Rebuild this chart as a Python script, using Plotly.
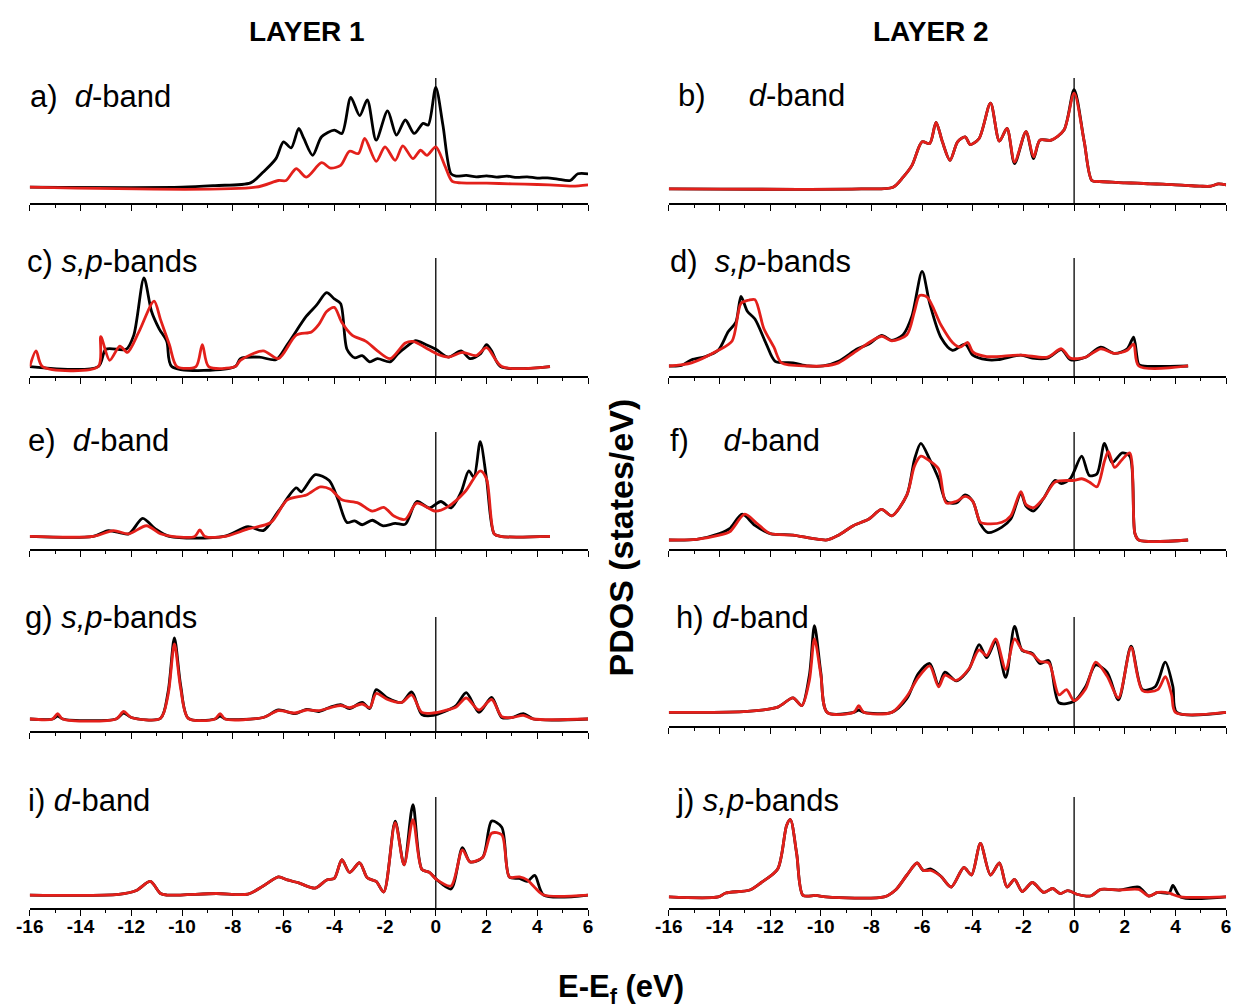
import plotly.graph_objects as go

# ---------------- data (energy E-Ef in eV, PDOS in arbitrary units) ----------------
A_BLACK_E = [-16, -10, -8.7, -7.3, -6.8, -6.3, -6.0, -5.7, -5.4, -5.2, -4.85, -4.5, -4.0, -3.7, -3.35, -3.0, -2.7, -2.35, -1.9, -1.55, -1.2, -0.85, -0.5, -0.3, 0, 0.28, 0.6, 0.8, 1.2, 1.6, 2.0, 2.4, 2.8, 3.2, 3.6, 4.0, 4.4, 4.8, 5.3, 5.6, 6]
A_BLACK = [0, 0, 5, 13, 45, 85, 135, 117, 175, 145, 95, 150, 170, 160, 267, 213, 260, 140, 227, 155, 200, 160, 190, 185, 297, 185, 40, 33, 35, 31, 34, 30, 33, 29, 31, 27, 28, 24, 20, 40, 40]
A_RED_E = [-16, -7.1, -6.2, -5.9, -5.5, -5.1, -4.5, -4.15, -3.75, -3.4, -3.05, -2.8, -2.35, -2.0, -1.6, -1.3, -0.9, -0.6, -0.35, 0, 0.35, 0.65, 1.0, 2, 3, 4, 5, 5.4, 6]
A_RED = [0, 0, 20, 20, 55, 30, 73, 57, 65, 107, 100, 145, 77, 120, 80, 123, 85, 110, 95, 120, 65, 17, 13, 12, 10, 8, 5, 3, 7]

C_BLACK_E = [-16, -13.3, -13.0, -12.2, -11.9, -11.5, -11.2, -10.9, -10.6, -10.4, -7.9, -7.7, -6.95, -6.3, -5.85, -5.1, -4.7, -4.3, -4.0, -3.75, -3.5, -3.2, -2.9, -2.6, -2.3, -1.8, -1.5, -1.2, -0.8, -0.4, 0, 0.5, 1.0, 1.35, 1.75, 2.0, 2.2, 2.55, 4.5]
C_BLACK = [0, 0, 55, 55, 100, 282, 175, 120, 80, 0, 0, 25, 30, 22, 70, 160, 195, 235, 215, 200, 55, 28, 35, 15, 25, 15, 40, 60, 82, 70, 55, 30, 50, 25, 40, 70, 50, 0, 0]
C_RED_E = [-16, -15.75, -15.5, -13.3, -13.2, -12.85, -12.45, -12.15, -11.7, -11.1, -10.85, -10.5, -10.2, -9.45, -9.2, -8.95, -7.9, -7.7, -6.8, -6.2, -5.5, -4.9, -4.6, -4.3, -4.0, -3.7, -3.3, -2.75, -2.3, -1.8, -1.2, -0.9, -0.4, 0.05, 0.5, 1.05, 1.6, 2.0, 2.6, 4.5]
C_RED = [0, 50, 0, 0, 95, 20, 65, 45, 110, 208, 150, 70, 0, 0, 70, 0, 0, 20, 50, 25, 100, 110, 135, 175, 188, 140, 100, 80, 50, 25, 75, 80, 60, 40, 30, 45, 35, 60, 0, 0]

E_BLACK_E = [-16, -13.5, -12.9, -12.1, -11.55, -11.05, -10.5, -8.35, -7.4, -6.8, -6.2, -5.5, -5.3, -4.75, -4.2, -3.85, -3.5, -3.2, -2.9, -2.5, -2.1, -1.6, -1.2, -0.75, -0.25, 0.2, 0.6, 1.0, 1.3, 1.5, 1.75, 2.0, 2.3, 2.55, 4.5]
E_BLACK = [0, 0, 18, 8, 56, 23, 0, 0, 30, 18, 78, 150, 138, 191, 173, 113, 43, 48, 36, 50, 33, 40, 38, 108, 88, 108, 88, 138, 203, 183, 293, 178, 8, 0, 0]
E_RED_E = [-16, -13.5, -12.7, -12.1, -11.4, -10.85, -10.4, -9.5, -9.3, -9.1, -8.3, -7.4, -6.5, -5.85, -5.1, -4.55, -4.15, -3.7, -3.05, -2.5, -2.05, -1.65, -1.2, -0.75, 0, 0.5, 1.15, 1.75, 2.0, 2.3, 2.55, 4.5]
E_RED = [0, 0, 18, 8, 33, 8, 0, 0, 20, 0, 0, 23, 43, 113, 128, 153, 146, 113, 103, 78, 90, 63, 53, 103, 78, 93, 138, 203, 178, 8, 0, 0]

G_E = [-16, -15.1, -14.9, -14.7, -12.6, -12.3, -12.0, -10.85, -10.55, -10.3, -10.05, -9.75, -8.7, -8.5, -8.3, -6.8, -6.2, -5.55, -5.1, -4.6, -4.15, -3.75, -3.4, -2.9, -2.6, -2.35, -1.9, -1.35, -0.95, -0.55, -0.1, 0.35, 0.8, 1.2, 1.7, 2.2, 2.6, 3.0, 3.45, 3.85, 6]
G_BLACK = [0, 0, 10, 0, 0, 20, 5, 2, 90, 270, 110, 2, 0, 10, 0, 5, 30, 18, 32, 25, 40, 48, 35, 55, 35, 98, 70, 55, 90, 15, 12, 25, 45, 88, 22, 72, 5, 5, 18, 0, 0]
G_RED = [0, 0, 18, 0, 0, 25, 5, 2, 80, 250, 100, 2, 0, 18, 0, 5, 28, 20, 30, 28, 38, 45, 38, 50, 38, 85, 65, 55, 80, 22, 20, 28, 40, 70, 30, 65, 8, 5, 12, 0, 0]

I_E = [-16, -12.5, -11.8, -11.25, -10.85, -10.6, -8.65, -7.4, -6.8, -6.2, -5.85, -5.4, -4.75, -4.3, -4.0, -3.7, -3.4, -3.0, -2.7, -2.35, -2.05, -1.6, -1.25, -0.9, -0.55, -0.25, 0.05, 0.6, 1.05, 1.35, 1.85, 2.2, 2.6, 2.9, 3.3, 3.6, 3.9, 4.25, 6]
I_BLACK = [0, 2, 15, 45, 5, 0, 5, 3, 30, 60, 50, 40, 23, 50, 55, 117, 75, 107, 57, 45, 10, 245, 100, 300, 85, 75, 50, 20, 157, 110, 125, 245, 225, 60, 55, 45, 65, 0, 0]
I_RED = [0, 2, 15, 45, 5, 0, 5, 3, 30, 60, 50, 40, 23, 50, 55, 117, 75, 107, 57, 45, 10, 240, 100, 250, 85, 75, 50, 30, 150, 110, 125, 205, 200, 60, 60, 50, 25, 0, 0]

B_E = [-16, -8.4, -7.15, -6.75, -6.4, -6.0, -5.7, -5.45, -5.2, -4.9, -4.6, -4.3, -4.1, -3.75, -3.3, -2.95, -2.65, -2.35, -1.9, -1.6, -1.35, -0.9, -0.4, 0, 0.4, 0.7, 1.0, 1.5, 2.0, 2.5, 3.0, 3.5, 4.0, 4.5, 5.0, 5.4, 5.7, 6]
B_BLACK = [0, 0, 5, 35, 70, 140, 135, 198, 140, 85, 140, 155, 132, 150, 255, 142, 180, 75, 170, 90, 145, 145, 175, 295, 140, 25, 22, 20, 18, 17, 15, 14, 12, 10, 8, 8, 15, 12]
B_RED = [0, 0, 5, 35, 70, 140, 135, 198, 140, 85, 140, 155, 132, 150, 255, 142, 180, 80, 170, 95, 145, 145, 175, 285, 140, 25, 22, 20, 18, 17, 15, 14, 12, 10, 8, 8, 15, 12]

D_BLACK_E = [-16, -15.5, -15.1, -14.55, -14.05, -13.65, -13.35, -13.15, -12.9, -12.6, -12.15, -11.8, -11.1, -10.5, -9.9, -9.3, -8.55, -8.1, -7.6, -7.2, -6.75, -6.4, -6.0, -5.7, -5.25, -4.8, -4.3, -4.0, -3.45, -3.0, -2.1, -1.65, -1.05, -0.5, -0.15, 0.45, 1.05, 1.6, 2.1, 2.35, 2.55, 2.7, 4.5]
D_BLACK = [0, 2, 20, 30, 50, 110, 140, 222, 175, 150, 70, 15, 10, 0, 0, 15, 55, 70, 98, 82, 100, 160, 302, 200, 90, 50, 70, 35, 20, 20, 35, 25, 25, 52, 20, 28, 60, 40, 55, 92, 5, 0, 0]
D_RED_E = [-16, -15.1, -14.05, -13.5, -13.15, -12.85, -12.6, -12.25, -11.85, -11.55, -10.5, -9.9, -9.3, -8.55, -7.6, -7.2, -6.6, -6.3, -6.1, -5.8, -5.25, -4.8, -4.5, -4.2, -4.0, -3.45, -2.1, -1.05, -0.5, -0.15, 0.45, 1.05, 1.6, 2.1, 2.35, 2.55, 4.5]
D_RED = [0, 10, 50, 80, 200, 210, 212, 120, 60, 10, 0, 0, 10, 50, 95, 80, 100, 175, 225, 220, 130, 75, 60, 75, 45, 30, 35, 28, 55, 25, 28, 55, 40, 50, 70, 0, 0]

F_BLACK_E = [-16, -14.9, -14.0, -13.6, -13.1, -12.6, -12.0, -11.1, -10.35, -9.75, -9.3, -8.7, -8.1, -7.6, -7.2, -6.6, -6.3, -6.05, -5.7, -5.35, -5.05, -4.65, -4.3, -4.0, -3.7, -3.4, -2.85, -2.5, -2.1, -1.9, -1.6, -1.2, -0.75, -0.5, -0.15, 0.3, 0.6, 0.9, 1.2, 1.5, 1.9, 2.2, 2.4, 2.55, 4.5]
F_BLACK = [0, 2, 20, 35, 80, 45, 20, 15, 5, 0, 15, 45, 65, 95, 75, 140, 250, 300, 250, 190, 120, 115, 140, 120, 50, 23, 40, 65, 145, 105, 90, 130, 185, 175, 190, 260, 200, 205, 300, 240, 270, 260, 20, 0, 0]
F_RED_E = [-16, -14.9, -14.0, -13.6, -13.0, -12.5, -12.0, -11.1, -10.35, -9.75, -9.3, -8.7, -8.1, -7.6, -7.2, -6.6, -6.3, -6.05, -5.7, -5.35, -5.05, -4.65, -4.3, -4.0, -3.7, -3.4, -2.85, -2.5, -2.1, -1.9, -1.6, -1.2, -0.75, 0, 0.3, 0.6, 0.9, 1.2, 1.35, 1.6, 1.9, 2.2, 2.4, 2.55, 4.5]
F_RED = [0, 2, 15, 25, 80, 50, 20, 15, 5, 0, 15, 45, 65, 95, 75, 140, 230, 260, 245, 220, 115, 120, 135, 120, 55, 50, 55, 75, 150, 110, 100, 130, 180, 185, 190, 180, 165, 245, 275, 225, 250, 270, 20, 0, 0]

H_BLACK_E = [-16, -12.9, -11.7, -11.1, -10.75, -10.45, -10.25, -10.0, -9.75, -8.7, -8.5, -8.3, -7.2, -6.6, -6.15, -5.7, -5.35, -5.1, -4.65, -4.15, -3.75, -3.45, -3.1, -2.7, -2.35, -2.05, -1.65, -1.35, -1.0, -0.6, 0, 0.45, 0.85, 1.3, 1.75, 2.25, 2.7, 3.2, 3.6, 3.9, 4.05, 6]
H_BLACK = [0, 3, 18, 50, 23, 128, 298, 138, 0, 0, 8, 0, 0, 48, 133, 168, 93, 138, 108, 148, 233, 188, 243, 120, 296, 213, 203, 168, 178, 33, 38, 88, 163, 138, 43, 228, 78, 88, 173, 88, 0, 0]
H_RED_E = [-16, -12.9, -11.7, -11.1, -10.75, -10.45, -10.25, -10.0, -9.75, -8.7, -8.5, -8.3, -7.2, -6.6, -6.15, -5.7, -5.35, -5.1, -4.65, -4.15, -3.75, -3.45, -3.1, -2.7, -2.35, -2.05, -1.65, -1.35, -1.0, -0.6, -0.3, 0, 0.45, 0.85, 1.3, 1.75, 2.25, 2.7, 3.3, 3.6, 3.85, 4.0, 6]
H_RED = [0, 3, 18, 50, 23, 110, 253, 130, 0, 0, 23, 0, 0, 55, 120, 160, 88, 128, 110, 150, 215, 195, 253, 148, 253, 215, 200, 175, 170, 60, 78, 40, 80, 173, 125, 50, 223, 75, 78, 123, 60, 0, 0]

J_E = [-16, -14.05, -13.75, -12.8, -12.35, -11.7, -11.35, -11.2, -10.95, -10.7, -10.2, -9.8, -7.5, -7.05, -6.6, -6.2, -5.95, -5.65, -5.25, -4.85, -4.35, -4.05, -3.7, -3.3, -2.95, -2.65, -2.35, -2.05, -1.65, -1.2, -0.85, -0.55, -0.25, 0.15, 0.65, 1.05, 1.8, 2.55, 2.95, 3.3, 3.75, 3.9, 4.2, 6]
J_BLACK = [0, 0, 13, 23, 48, 93, 238, 258, 143, 5, 5, 0, 0, 23, 73, 113, 88, 93, 68, 33, 98, 73, 178, 73, 113, 33, 58, 18, 48, 15, 28, 11, 21, 8, 3, 25, 23, 33, 3, 15, 13, 38, 0, 0]
J_RED = [0, 0, 13, 23, 48, 93, 238, 258, 143, 5, 5, 0, 0, 23, 73, 113, 88, 88, 68, 33, 98, 73, 178, 73, 113, 33, 58, 18, 48, 15, 28, 11, 21, 8, 3, 25, 23, 25, 3, 15, 13, 8, 0, 0]

PANEL_LABELS = ["a)  <i>d</i>-band", "b)     <i>d</i>-band", "c) <i>s,p</i>-bands", "d)  <i>s,p</i>-bands",
                "e)  <i>d</i>-band", "f)    <i>d</i>-band", "g) <i>s,p</i>-bands", "h) <i>d</i>-band",
                "i) <i>d</i>-band", "j) <i>s,p</i>-bands"]
COLUMN_TITLES = ["LAYER 1", "LAYER 2"]
TICK_VALUES = [-16, -14, -12, -10, -8, -6, -4, -2, 0, 2, 4, 6]

# ---------------- layout geometry ----------------
W, H = 1238, 1008
FONT = "Liberation Sans, Arial, sans-serif"
BLACK = "#000000"
RED = "#e3201b"

panels = [
    # (label, col, (top_px, bottom_px), yrange, black_x, black_y, red_x, red_y)
    ("a", 0, (78, 203), (-47, 325), A_BLACK_E, A_BLACK, A_RED_E, A_RED),
    ("b", 1, (78, 203), (-42, 330), B_E, B_BLACK, B_E, B_RED),
    ("c", 0, (258, 376), (-30, 345), C_BLACK_E, C_BLACK, C_RED_E, C_RED),
    ("d", 1, (258, 376), (-32, 345), D_BLACK_E, D_BLACK, D_RED_E, D_RED),
    ("e", 0, (432, 549), (-39, 323), E_BLACK_E, E_BLACK, E_RED_E, E_RED),
    ("f", 1, (432, 549), (-28, 335), F_BLACK_E, F_BLACK, F_RED_E, F_RED),
    ("g", 0, (617, 731), (-40, 340), G_E, G_BLACK, G_E, G_RED),
    ("h", 1, (617, 726), (-47, 328), H_BLACK_E, H_BLACK, H_RED_E, H_RED),
    ("i", 0, (797, 908), (-43, 325), I_E, I_BLACK, I_E, I_RED),
    ("j", 1, (797, 908), (-37, 333), J_E, J_BLACK, J_E, J_RED),
]
col_x = [(16, 583), (665, 1231)]
label_pos = [(14, 96), (672, 95), (11, 262), (664, 262), (12, 440),
             (664, 440), (9, 617), (670, 617), (12, 800), (670, 800)]

fig = go.Figure()
layout = dict(width=W, height=H, margin=dict(l=0, r=0, t=0, b=0),
              plot_bgcolor="white", paper_bgcolor="white", showlegend=False)
shapes, annotations = [], []

for k, (name, col, (top, bot), yr, bx, by, rx, ry) in enumerate(panels):
    n = k + 1
    xa = "x" if n == 1 else f"x{n}"
    ya = "y" if n == 1 else f"y{n}"
    x0, x1 = col_x[col]
    bottom_row = name in ("i", "j")
    layout["xaxis" if n == 1 else f"xaxis{n}"] = dict(
        domain=[x0 / W, x1 / W], anchor=ya, range=[-16, 6],
        showline=True, linecolor=BLACK, linewidth=1.5, showgrid=False, zeroline=False,
        ticks="outside", ticklen=6, tickwidth=1.3, tickcolor=BLACK,
        tickmode="array", tickvals=TICK_VALUES, ticktext=[str(v) for v in TICK_VALUES],
        showticklabels=bottom_row, ticklabelstandoff=-6,
        tickfont=dict(family=FONT, size=19, color=BLACK, weight="bold"),
        minor=dict(dtick=1, tick0=-16, ticks="outside", ticklen=3.5, tickwidth=1.2, tickcolor=BLACK, showgrid=False),
        fixedrange=True,
    )
    layout["yaxis" if n == 1 else f"yaxis{n}"] = dict(
        domain=[1 - bot / H, 1 - top / H], anchor=xa, range=list(yr),
        visible=False, showgrid=False, zeroline=False, fixedrange=True,
    )
    fig.add_trace(go.Scatter(x=bx, y=by, xaxis=xa, yaxis=ya, mode="lines",
                             line=dict(color=BLACK, width=2.8, shape="spline", smoothing=0.8),
                             hoverinfo="skip"))
    fig.add_trace(go.Scatter(x=rx, y=ry, xaxis=xa, yaxis=ya, mode="lines",
                             line=dict(color=RED, width=2.8, shape="spline", smoothing=0.8),
                             hoverinfo="skip"))
    shapes.append(dict(type="line", xref=xa, yref=f"{ya} domain", x0=0, x1=0, y0=0, y1=1,
                       line=dict(color=BLACK, width=1.3), layer="below"))
    lx, ly = label_pos[k]
    annotations.append(dict(text=PANEL_LABELS[k], xref="paper", yref="paper", x=lx / W, y=1 - ly / H,
                            xanchor="left", yanchor="middle", showarrow=False,
                            font=dict(family=FONT, size=31, color=BLACK)))

annotations.append(dict(text=f"<b>{COLUMN_TITLES[0]}</b>", xref="paper", yref="paper", x=298 / W, y=1 - 31 / H,
                        xanchor="center", yanchor="middle", showarrow=False,
                        font=dict(family=FONT, size=28, color=BLACK)))
annotations.append(dict(text=f"<b>{COLUMN_TITLES[1]}</b>", xref="paper", yref="paper", x=931 / W, y=1 - 31 / H,
                        xanchor="center", yanchor="middle", showarrow=False,
                        font=dict(family=FONT, size=28, color=BLACK)))
annotations.append(dict(text="<b>PDOS (states/eV)</b>", xref="paper", yref="paper", x=616 / W, y=1 - 538 / H,
                        xanchor="center", yanchor="middle", showarrow=False, textangle=-90,
                        font=dict(family=FONT, size=34, color=BLACK)))
annotations.append(dict(text="<b>E-E<sub>f</sub> (eV)</b>", xref="paper", yref="paper", x=616 / W, y=1 - 989 / H,
                        xanchor="center", yanchor="middle", showarrow=False,
                        font=dict(family=FONT, size=31, color=BLACK)))

layout["shapes"] = shapes
layout["annotations"] = annotations
fig.update_layout(**layout)
fig.write_html("out.html")
